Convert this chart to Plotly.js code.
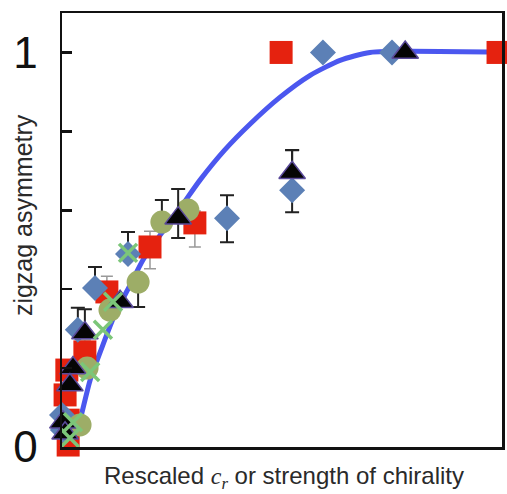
<!DOCTYPE html>
<html>
<head>
<meta charset="utf-8">
<script src="https://cdn.plot.ly/plotly-3.0.1.min.js"></script>
<style>html,body{margin:0;padding:0;background:#fff;}#chart{width:507px;height:494px;}</style>
</head>
<body>
<div id="chart"></div>
<script>
// Theory curve
const curveX = [0.023, 0.041, 0.064, 0.093, 0.120, 0.155, 0.184, 0.223, 0.268, 0.314, 0.370, 0.427, 0.495, 0.564, 0.632, 0.700, 1.0];
const curveY = [0.0, 0.068, 0.170, 0.259, 0.335, 0.411, 0.474, 0.537, 0.605, 0.677, 0.753, 0.818, 0.886, 0.942, 0.980, 1.0, 1.0];

// Red squares
const sqX = [0.498, 0.991, 0.302, 0.20, 0.102, 0.052, 0.011, 0.007, 0.014, 0.014];
const sqY = [1.0, 1.0, 0.568, 0.507, 0.393, 0.241, 0.195, 0.132, 0.068, 0.005];
const sqErrP = [0, 0, 0.03, 0.04, 0.04, 0.03, 0, 0, 0, 0];
const sqErrM = [0, 0, 0.061, 0.055, 0.04, 0.03, 0, 0, 0, 0];

// Blue diamonds
const dmX = [0.593, 0.75, 0.375, 0.523, 0.15, 0.075, 0.036, 0.0, 0.002];
const dmY = [1.0, 1.0, 0.58, 0.651, 0.489, 0.403, 0.297, 0.081, 0.043];
const dmErrP = [0, 0, 0.058, 0.101, 0.056, 0.053, 0.056, 0, 0];
const dmErrM = [0, 0, 0.061, 0.056, 0, 0, 0, 0, 0];

// Olive circles
const ciX = [0.286, 0.227, 0.173, 0.109, 0.057, 0.041];
const ciY = [0.601, 0.57, 0.418, 0.347, 0.2, 0.056];
const ciErrP = [0, 0.056, 0, 0, 0, 0];
const ciErrM = [0, 0, 0.063, 0, 0, 0];

// Black triangles
const trX = [0.78, 0.523, 0.264, 0.132, 0.052, 0.025, 0.018, 0.002, 0.007];
const trY = [1.0, 0.695, 0.58, 0.368, 0.289, 0.2, 0.157, 0.063, 0.035];
const trErrP = [0, 0.058, 0.074, 0, 0.06, 0, 0, 0, 0];
const trErrM = [0, 0, 0.05, 0, 0, 0, 0, 0, 0];

// Green crosses
const xxX = [0.15, 0.116, 0.093, 0.064, 0.025, 0.018];
const xxY = [0.492, 0.368, 0.297, 0.19, 0.063, 0.023];

const yTickVals = [0, 0.2, 0.4, 0.6, 0.8, 1];
const yTickText = ['0', '', '', '', '', '1'];

const traces = [
  {x: curveX, y: curveY, mode: 'lines', line: {color: '#4b57ef', width: 5, shape: 'spline', smoothing: 0.6}, hoverinfo: 'skip'},
  {x: sqX, y: sqY, mode: 'markers', cliponaxis: false,
   marker: {symbol: 'square', size: 23, color: '#e5220f'},
   error_y: {type: 'data', symmetric: false, array: sqErrP, arrayminus: sqErrM, color: '#999999', thickness: 1.5, width: 6}},
  {x: dmX, y: dmY, mode: 'markers', cliponaxis: false,
   marker: {symbol: 'diamond', size: 20, color: '#5c80b6'},
   error_y: {type: 'data', symmetric: false, array: dmErrP, arrayminus: dmErrM, color: '#222222', thickness: 2, width: 7}},
  {x: ciX, y: ciY, mode: 'markers', cliponaxis: false,
   marker: {symbol: 'circle', size: 23, color: '#9dad67'},
   error_y: {type: 'data', symmetric: false, array: ciErrP, arrayminus: ciErrM, color: '#222222', thickness: 2, width: 7}},
  {x: trX, y: trY, mode: 'markers', cliponaxis: false,
   marker: {symbol: 'triangle-up', size: 23, color: '#050505', line: {color: '#5a4a9a', width: 1.5}},
   error_y: {type: 'data', symmetric: false, array: trErrP, arrayminus: trErrM, color: '#222222', thickness: 2, width: 7}},
  {x: xxX, y: xxY, mode: 'markers', cliponaxis: false,
   marker: {symbol: 'x-thin-open', size: 18, color: '#7cc679', line: {color: '#7cc679', width: 3.5}}}
];

const layout = {
  width: 507, height: 494,
  margin: {l: 62, r: 5, t: 13, b: 47, pad: 0},
  paper_bgcolor: '#ffffff', plot_bgcolor: '#ffffff',
  showlegend: false,
  font: {family: 'Liberation Sans, Arial, sans-serif', color: '#222'},
  xaxis: {range: [0, 1], showgrid: false, zeroline: false, showticklabels: false, ticks: '',
          showline: true, mirror: true, linecolor: '#111', linewidth: 2.5},
  yaxis: {range: [0, 1.1], showgrid: false, zeroline: false,
          tickmode: 'array', tickvals: yTickVals, ticktext: yTickText,
          ticks: 'inside', ticklen: 10, tickwidth: 2.5, tickcolor: '#111',
          ticklabelstandoff: 13,
          tickfont: {size: 44, color: '#111', family: 'Liberation Sans, Arial, sans-serif'},
          showline: true, mirror: true, linecolor: '#111', linewidth: 2.5},
  annotations: [
    {text: 'zigzag asymmetry', xref: 'paper', yref: 'paper', x: -0.088, y: 0.535,
     textangle: -90, showarrow: false, xanchor: 'center', yanchor: 'middle',
     font: {size: 25, color: '#2a2a2a', family: 'Liberation Sans, Arial, sans-serif'}},
    {text: 'Rescaled <span style="font-family:Liberation Serif, serif;font-style:italic">c<sub>r</sub></span> or strength of chirality',
     xref: 'paper', yref: 'paper', x: 0.505, y: -0.111, showarrow: false,
     xanchor: 'center', yanchor: 'bottom',
     font: {size: 24, color: '#2a2a2a', family: 'Liberation Sans, Arial, sans-serif'}}
  ]
};

Plotly.newPlot('chart', traces, layout, {staticPlot: true, displayModeBar: false});
</script>
</body>
</html>
